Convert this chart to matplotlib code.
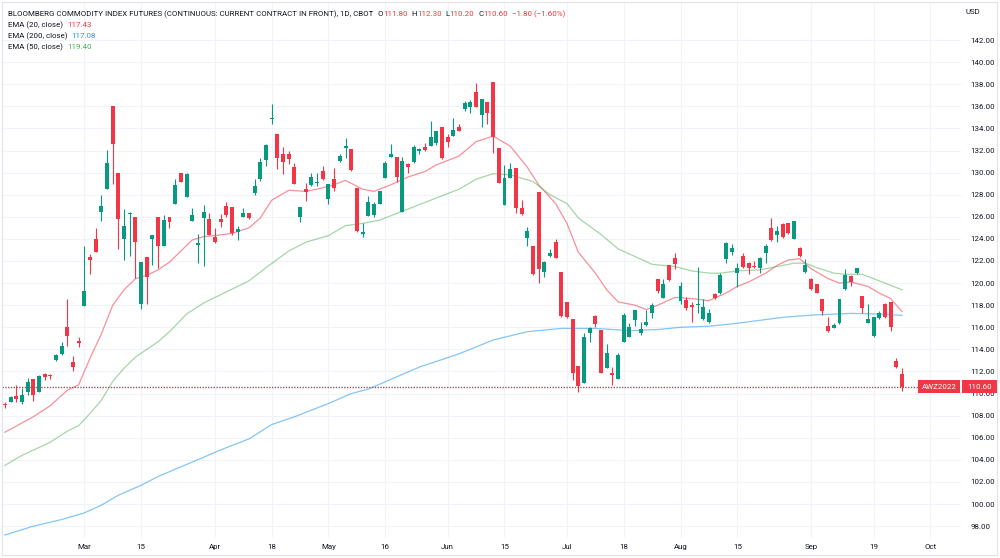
import numpy as np
import pandas as pd
import matplotlib
matplotlib.use('Agg')
import matplotlib.pyplot as plt
from matplotlib.patches import Rectangle
import matplotlib.transforms as mtransforms

plt.rcParams['font.family'] = ['Roboto', 'DejaVu Sans']

# daily OHLC, BCOM continuous futures, Feb 8 - Sep 26 2022
opens = [109.06, 109.27, 109.81, 109.27, 110.18, 111.29, 110.18, 111.74, 111.70, 113.04,
         113.55, 115.99, 112.89, 114.73, 117.93, 122.39, 123.96, 126.46, 128.52, 136.03,
         129.93, 123.96, 126.28, 125.95, 118.08, 122.39, 123.96, 126.01, 123.36, 126.01,
         127.13, 129.93, 127.82, 125.65, 123.48, 125.92, 125.80, 124.20, 125.80, 126.98,
         126.92, 124.59, 126.01, 126.31, 128.12, 129.39, 131.14, 134.85, 133.49, 131.68,
         131.65, 130.48, 125.95, 128.52, 128.88, 129.09, 130.15, 127.61, 129.42, 131.08,
         132.26, 132.14, 128.58, 124.44, 126.07, 126.16, 127.16, 129.48, 131.44, 131.44,
         126.46, 130.78, 130.99, 131.98, 132.29, 132.41, 132.65, 134.16, 133.19, 133.34,
         134.16, 135.73, 135.97, 137.32, 135.21, 136.42, 138.23, 132.26, 127.07, 129.48,
         130.39, 126.77, 124.11, 123.36, 128.28, 120.97, 122.48, 123.75, 121.03, 118.26,
         116.75, 112.50, 110.99, 115.45, 117.02, 115.75, 112.29, 111.83, 111.29, 114.70,
         115.15, 116.66, 115.45, 116.21, 117.26, 120.34, 118.62, 121.64, 122.30, 118.40,
         118.47, 118.02, 117.98, 116.75, 116.51, 118.98, 119.07, 122.18, 122.84, 120.94,
         122.45, 121.85, 121.55, 121.34, 122.69, 125.02, 124.35, 125.32, 125.41, 123.96,
         123.21, 120.97, 120.37, 119.92, 118.53, 116.15, 115.96, 116.36, 119.44, 120.64,
         120.88, 118.83, 116.42, 115.24, 116.87, 118.11, 118.32, 112.95, 111.80]
highs = [109.27, 109.78, 110.78, 110.48, 111.44, 111.30, 111.68, 111.83, 111.77, 113.58,
         114.70, 118.56, 113.43, 115.15, 123.39, 122.63, 125.02, 127.97, 132.05, 136.03,
         129.93, 126.71, 126.47, 125.95, 121.94, 122.39, 124.36, 126.01, 126.16, 126.01,
         129.39, 129.93, 129.99, 126.77, 124.44, 127.07, 126.31, 124.96, 126.25, 127.37,
         126.92, 125.20, 126.77, 126.37, 129.45, 131.29, 132.59, 136.21, 133.49, 132.35,
         131.98, 130.90, 126.86, 129.09, 129.99, 129.99, 130.60, 128.97, 130.39, 131.68,
         133.10, 132.14, 128.58, 125.41, 127.88, 127.37, 128.34, 131.05, 132.59, 131.44,
         131.38, 130.84, 132.50, 132.20, 132.71, 134.67, 133.80, 134.16, 133.49, 134.97,
         134.40, 136.51, 136.57, 138.08, 136.63, 136.42, 138.23, 132.26, 130.69, 130.84,
         130.39, 127.52, 125.10, 123.36, 128.28, 122.00, 123.09, 123.99, 121.03, 118.26,
         116.75, 112.50, 115.45, 116.06, 117.11, 115.75, 114.49, 112.38, 113.70, 117.26,
         116.36, 117.57, 116.51, 117.57, 118.17, 120.34, 120.34, 121.64, 122.75, 120.13,
         118.70, 118.30, 121.50, 118.55, 117.63, 119.14, 120.94, 123.75, 123.51, 121.85,
         122.69, 121.94, 122.03, 122.39, 123.54, 125.86, 125.17, 125.41, 125.41, 125.62,
         123.30, 122.15, 120.43, 119.92, 118.53, 116.96, 116.36, 118.53, 121.24, 120.73,
         121.34, 118.83, 118.11, 116.96, 117.50, 118.23, 118.32, 113.19, 112.30]
lows = [108.67, 109.21, 109.27, 109.06, 109.87, 109.36, 110.10, 111.23, 111.32, 112.98,
        113.49, 114.31, 112.08, 114.25, 117.93, 120.79, 122.85, 125.65, 128.52, 128.94,
        123.09, 122.09, 122.45, 120.43, 117.63, 118.08, 121.64, 121.34, 123.36, 124.96,
        127.13, 129.12, 127.82, 125.65, 121.79, 121.55, 124.35, 123.60, 125.11, 126.01,
        124.35, 123.90, 125.95, 125.77, 127.97, 129.24, 130.60, 134.40, 130.30, 129.84,
        130.75, 128.97, 125.56, 127.46, 128.79, 128.79, 129.33, 127.16, 128.37, 130.99,
        131.29, 130.18, 124.65, 124.20, 126.07, 125.95, 127.16, 129.48, 131.38, 129.18,
        126.46, 129.99, 130.90, 131.68, 131.98, 132.41, 132.50, 131.23, 132.35, 133.31,
        133.80, 135.60, 135.42, 135.97, 134.16, 134.40, 131.75, 129.03, 127.07, 129.48,
        126.31, 126.16, 123.36, 120.73, 120.04, 120.58, 122.39, 122.24, 116.96, 116.81,
        111.23, 110.17, 110.99, 114.70, 116.06, 111.89, 112.29, 110.78, 111.29, 114.70,
        115.15, 116.12, 115.30, 116.12, 116.81, 119.14, 118.62, 120.22, 121.24, 118.10,
        117.60, 116.45, 117.30, 116.68, 116.42, 118.56, 119.00, 121.85, 122.54, 119.62,
        121.34, 120.82, 121.34, 120.88, 121.79, 123.84, 123.75, 124.05, 124.44, 123.96,
        122.33, 120.88, 119.38, 119.07, 117.11, 115.60, 115.90, 116.30, 119.38, 119.74,
        120.82, 117.32, 116.36, 115.15, 116.72, 116.81, 115.69, 112.29, 110.20]
closes = [108.94, 109.72, 109.48, 109.87, 111.08, 109.87, 111.62, 111.53, 111.62, 113.49,
          114.31, 115.24, 112.38, 114.55, 119.29, 122.09, 122.85, 127.01, 130.84, 132.59,
          125.77, 125.17, 126.34, 123.75, 121.94, 120.58, 124.36, 123.36, 125.71, 125.56,
          128.85, 129.12, 129.84, 126.16, 123.66, 126.40, 124.35, 123.75, 125.56, 126.16,
          124.50, 124.90, 126.37, 125.86, 128.79, 130.99, 132.47, 134.97, 131.29, 130.99,
          131.20, 128.97, 126.86, 128.22, 129.63, 129.18, 129.39, 128.97, 128.58, 131.50,
          132.41, 130.24, 124.71, 124.62, 127.37, 127.16, 128.34, 130.84, 131.65, 129.63,
          131.08, 130.48, 132.29, 132.11, 132.05, 133.19, 133.80, 131.29, 132.80, 133.85,
          133.80, 136.27, 136.42, 135.97, 136.63, 135.36, 133.25, 129.03, 129.48, 130.30,
          126.77, 126.25, 124.71, 120.82, 121.28, 121.88, 122.75, 122.24, 117.02, 116.96,
          111.89, 110.69, 115.15, 115.90, 116.30, 111.89, 113.64, 111.68, 113.49, 117.11,
          116.06, 117.57, 115.84, 116.51, 118.02, 119.32, 119.89, 120.28, 121.73, 119.74,
          117.76, 117.84, 118.08, 117.84, 117.32, 118.62, 120.73, 123.66, 123.21, 121.34,
          121.49, 121.34, 121.43, 122.30, 123.39, 123.90, 124.71, 124.14, 124.56, 125.62,
          122.45, 121.64, 119.44, 119.07, 117.48, 115.69, 116.18, 118.53, 120.73, 120.13,
          121.34, 117.72, 116.72, 116.90, 117.26, 116.96, 116.00, 112.40, 110.60]

# EMA lines (bar number, value)
ema20_bar = [0, 5, 8, 11, 13, 15, 17, 19, 21, 23, 25, 27, 29, 31, 33, 35, 37, 40, 43, 45,
             47, 50, 53, 55, 58, 60, 63, 65, 68, 71, 74, 76, 80, 83, 86, 89, 92, 94, 97, 99,
             101, 104, 106, 108, 111, 113, 115, 118, 121, 124, 127, 129, 131, 134, 136, 138,
             140, 142, 145, 147, 149, 152, 154, 156, 158]
ema20 = [106.5, 107.9, 108.9, 110.3, 110.8, 113.2, 115.4, 118.0, 119.4, 120.4, 120.7, 121.2,
         121.9, 122.9, 123.9, 124.2, 124.3, 124.5, 125.0, 125.9, 127.5, 128.4, 128.3, 128.5,
         128.9, 129.3, 128.5, 128.3, 128.9, 129.6, 130.1, 130.7, 131.5, 132.8, 133.3, 132.4,
         130.5, 128.9, 127.2, 125.4, 122.8, 120.9, 119.4, 118.3, 118.0, 117.6, 118.0, 118.7,
         118.6, 118.4, 119.1, 119.7, 120.1, 120.9, 121.6, 122.1, 122.2, 121.3, 120.4, 120.0,
         120.1, 119.7, 119.1, 118.6, 117.43]
ema50_bar = [0, 3, 8, 11, 13, 15, 17, 19, 21, 23, 27, 29, 32, 35, 39, 43, 46, 50, 53, 57,
             60, 63, 66, 69, 72, 76, 80, 83, 86, 89, 93, 96, 99, 101, 105, 108, 111, 114, 118,
             121, 124, 126, 129, 133, 136, 139, 141, 143, 146, 148, 151, 153, 155, 158]
ema50 = [103.5, 104.4, 105.6, 106.6, 107.1, 108.2, 109.4, 111.1, 112.3, 113.3, 114.7, 115.6,
         117.2, 118.2, 119.2, 120.2, 121.4, 122.9, 123.7, 124.3, 125.2, 125.4, 125.7, 126.3,
         126.9, 127.7, 128.5, 129.4, 129.9, 129.8, 129.2, 128.0, 127.2, 125.9, 124.4, 123.1,
         122.4, 121.7, 121.5, 121.1, 120.9, 120.9, 121.1, 121.2, 121.5, 121.8, 121.8, 121.4,
         120.9, 120.8, 120.8, 120.4, 120.0, 119.40]
ema200_bar = [0, 5, 10, 14, 17, 20, 24, 27, 33, 38, 43, 47, 51, 57, 61, 64, 73, 80, 86, 92,
              98, 104, 110, 115, 119, 124, 128, 137, 142, 149, 154, 158]
ema200 = [97.2, 98.0, 98.6, 99.2, 99.9, 100.8, 101.7, 102.5, 103.8, 104.9, 105.9, 107.2,
          107.9, 109.1, 110.0, 110.4, 112.4, 113.6, 114.85, 115.6, 115.9, 115.9, 115.7, 115.8,
          116.0, 116.1, 116.3, 116.9, 117.1, 117.26, 117.2, 117.08]

holidays = ['2022-02-21', '2022-04-15', '2022-05-30', '2022-06-20', '2022-07-04', '2022-09-05']
tick_dates = ['2022-03-01', '2022-03-15', '2022-04-01', '2022-04-18', '2022-05-02',
              '2022-05-16', '2022-06-01', '2022-06-15', '2022-07-01', '2022-07-18',
              '2022-08-01', '2022-08-15', '2022-09-01', '2022-09-19', '2022-10-03']
tick_labels = ['Mar', '15', 'Apr', '18', 'May', '16', 'Jun', '15', 'Jul', '18', 'Aug', '15',
               'Sep', '19', 'Oct']
price_ticks = np.arange(98, 143, 2)

title = 'BLOOMBERG COMMODITY INDEX FUTURES (CONTINUOUS: CURRENT CONTRACT IN FRONT), 1D, CBOT'
symbol = 'AWZ2022'

UP = '#089981'
DOWN = '#f23645'
TXT = '#131722'
GRID = '#f0f3fa'
FS = 5.7

days = pd.bdate_range('2022-02-08', '2022-10-03')
days = days[~days.isin(pd.to_datetime(holidays))]
n = len(closes)
x = np.arange(n)
o = np.array(opens)
c = np.array(closes)
h = np.array(highs)
l = np.array(lows)
up = c >= o
cols = np.where(up, UP, DOWN)

W, H = 1000, 558
fig = plt.figure(figsize=(W / 100, H / 100), dpi=100)
ax = fig.add_axes([2 / W, 1 - 538 / H, 959 / W, 536 / H])

# emas
ax.plot(ema20_bar, ema20, color=DOWN, alpha=0.55, lw=0.9, zorder=2)
ax.plot(ema200_bar, ema200, color='#2196f3', alpha=0.55, lw=0.9, zorder=2)
ax.plot(ema50_bar, ema50, color='#4caf50', alpha=0.5, lw=0.9, zorder=2)

# candles
ax.vlines(x, l, h, colors=cols, lw=0.8, zorder=3)
body = np.maximum(np.abs(c - o), 0.08)
ax.bar(x, body, bottom=np.minimum(o, c) - (body - np.abs(c - o)) / 2, width=0.7,
       color=cols, zorder=4, linewidth=0)

# last price line
last = closes[-1]
ax.axhline(last, color='#8c5a60', lw=1.0, ls=(0, (1, 1)), zorder=5)

ax.set_xlim(-0.5, 168.4)
ax.set_ylim(96.93, 145.44)
ax.set_yticks(price_ticks)
ax.yaxis.set_major_formatter(matplotlib.ticker.FormatStrFormatter('%.2f'))
ax.yaxis.tick_right()
tick_pos = [days.get_loc(pd.Timestamp(d)) for d in tick_dates]
ax.set_xticks(tick_pos)
ax.set_xticklabels(tick_labels)
ax.tick_params(axis='y', length=0, pad=7, labelsize=FS, labelcolor=TXT)
ax.tick_params(axis='x', length=0, pad=4, labelsize=FS, labelcolor=TXT)
ax.grid(True, color=GRID, lw=0.8, zorder=0)
ax.set_axisbelow(True)
for s in ax.spines.values():
    s.set_visible(False)

# price tags on the right
tr = mtransforms.blended_transform_factory(fig.transFigure, ax.transData)
tag_h = 13 / 11.05
for x0, x1, s in [(918, 960, symbol), (962, 997, '%.2f' % last)]:
    ax.add_patch(Rectangle((x0 / W, last - tag_h / 2), (x1 - x0) / W, tag_h, transform=tr,
                           facecolor=DOWN, edgecolor='none', clip_on=False, zorder=10))
    ax.text((x0 + x1) / 2 / W, last, s, transform=tr, color='white', fontsize=FS,
            ha='center', va='center', clip_on=False, zorder=11)

fig.text(966 / W, 1 - 12 / H, 'USD', color=TXT, fontsize=FS, va='center')

# header rows
rend = fig.canvas.get_renderer()


def put_row(y_px, parts):
    xx = 8 / W
    for s, col, gap in parts:
        t = fig.text(xx, 1 - y_px / H, s, color=col, fontsize=FS, va='center', ha='left')
        bb = t.get_window_extent(renderer=rend)
        xx = (bb.x1 + gap) / W


chg = closes[-1] - closes[-2]
pct = chg / closes[-2] * 100
chg_txt = ('%.2f (%.2f%%)' % (chg, pct)).replace('-', '\u2212')
put_row(14, [(title, TXT, 4),
             ('O', TXT, 0), ('%.2f' % opens[-1], DOWN, 4),
             ('H', TXT, 0), ('%.2f' % highs[-1], DOWN, 4),
             ('L', TXT, 0), ('%.2f' % lows[-1], DOWN, 4),
             ('C', TXT, 0), ('%.2f' % closes[-1], DOWN, 4),
             (chg_txt, DOWN, 0)])
put_row(25, [('EMA (20, close)', TXT, 4), ('%.2f' % ema20[-1], DOWN, 0)])
put_row(36, [('EMA (200, close)', TXT, 4), ('%.2f' % ema200[-1], '#2196f3', 0)])
put_row(47, [('EMA (50, close)', TXT, 4), ('%.2f' % ema50[-1], '#4caf50', 0)])

fig.add_artist(Rectangle((2 / W, 1 - 555 / H), 995 / W, 553 / H, transform=fig.transFigure,
                         fill=False, edgecolor='#e0e3eb', lw=0.8))

fig.savefig('out.png', dpi=100, facecolor='white')
